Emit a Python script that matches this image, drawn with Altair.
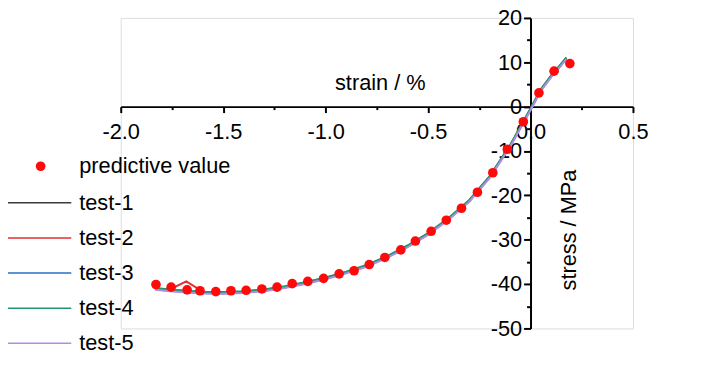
import altair as alt
import pandas as pd

# predictive values (red dots)
strain_pred = [-1.828, -1.754, -1.676, -1.613, -1.536, -1.462, -1.388, -1.311, -1.237, -1.163,
               -1.087, -1.010, -0.934, -0.861, -0.787, -0.711, -0.633, -0.562, -0.485, -0.411,
               -0.337, -0.259, -0.184, -0.113, -0.035, 0.041, 0.115, 0.192]
stress_pred = [-40.1, -40.7, -41.3, -41.5, -41.7, -41.5, -41.4, -41.1, -40.7, -39.9,
               -39.4, -38.7, -37.7, -37.0, -35.6, -34.0, -32.3, -30.3, -28.1, -25.6,
               -22.9, -19.3, -14.9, -9.6, -3.4, 3.1, 8.0, 9.7]

# test curves
strain_test = [-1.83, -1.76, -1.68, -1.6, -1.5, -1.4, -1.3, -1.2, -1.1, -1.0, -0.9, -0.8,
               -0.7, -0.6, -0.5, -0.4, -0.3, -0.2, -0.1, 0.0, 0.05, 0.1, 0.15, 0.175]
stress_test1 = [-41.0, -41.3, -41.6, -41.8, -41.9, -41.7, -41.3, -40.6, -39.7, -38.6, -37.3, -35.8,
                -33.8, -31.4, -28.6, -25.2, -21.2, -15.8, -8.8, -0.5, 3.8, 6.9, 9.6, 11.0]
stress_test2 = [-41.1, -41.2, -39.4, -41.7, -41.8, -41.8, -41.4, -40.7, -39.8, -38.7, -37.4, -35.9,
                -33.9, -31.5, -28.7, -25.3, -21.3, -15.9, -8.9, -0.6, 3.7, 6.8, 9.5, 10.9]
stress_test3 = [-41.2, -41.5, -41.8, -42.0, -42.1, -41.9, -41.5, -40.8, -39.9, -38.8, -37.5, -36.0,
                -34.0, -31.6, -28.8, -25.4, -21.4, -16.0, -9.0, -0.7, 3.6, 6.7, 9.4, 10.8]
stress_test4 = [-40.9, -41.2, -41.5, -41.7, -41.8, -41.6, -41.2, -40.5, -39.6, -38.5, -37.2, -35.7,
                -33.7, -31.3, -28.5, -25.1, -21.1, -15.7, -8.7, -0.4, 3.9, 7.0, 9.7, 11.1]
stress_test5 = [-41.3, -41.6, -41.9, -42.1, -42.2, -42.0, -41.6, -40.9, -40.0, -38.9, -37.6, -36.1,
                -34.1, -31.7, -28.9, -25.5, -21.5, -16.1, -9.1, -0.8, 3.5, 6.6, 9.3, 10.7]

test_names = ["test-1", "test-2", "test-3", "test-4", "test-5"]
test_colors = ["#3a3a3a", "#e03030", "#2a6cc8", "#22976a", "#b08ee6"]

x_major = [-2.0, -1.5, -1.0, -0.5, 0.0, 0.5]
x_minor = [-1.75, -1.25, -0.75, -0.25, 0.25]
y_major = [-50, -40, -30, -20, -10, 0, 10, 20]
y_minor = [-45, -35, -25, -15, -5, 5, 15]

X_DOM = [-2.0, 0.5]
Y_DOM = [-50, 20]
W, H = 518, 314
FONT = "Liberation Sans"
FS = 22

# build tables
rows = []
for name, ys in zip(test_names, [stress_test1, stress_test2, stress_test3, stress_test4, stress_test5]):
    for i, (xv, yv) in enumerate(zip(strain_test, ys)):
        rows.append({"strain": xv, "stress": yv, "series": name, "i": i})
lines_df = pd.DataFrame(rows)
pred_df = pd.DataFrame({"strain": strain_pred, "stress": stress_pred,
                        "series": ["predictive value"] * len(strain_pred)})

# axis offsets that place the axes through the origin
x_off = -(H - H * (Y_DOM[1] - 0) / (Y_DOM[1] - Y_DOM[0]))
y_off = -(W * (0 - X_DOM[0]) / (X_DOM[1] - X_DOM[0]))

x_scale = alt.Scale(domain=X_DOM, nice=False, zero=False)
y_scale = alt.Scale(domain=Y_DOM, nice=False, zero=False)

x_axis_major = alt.Axis(orient="bottom", offset=x_off, values=x_major,
                        labelExpr="replace(format(datum.value, '.1f'), '\u2212', '-')",
                        labelFont=FONT, labelFontSize=FS, labelColor="black",
                        tickSize=6, tickWidth=2, tickColor="black",
                        domainWidth=2, domainColor="black", labelPadding=9,
                        grid=False, labelFlush=False, labelOverlap=False,
                        title="strain / %", titleFont=FONT, titleFontSize=FS,
                        titleFontWeight="normal", titleColor="black",
                        titleX=262, titleY=-17, titleAlign="center",
                        titleBaseline="alphabetic")
y_axis_major = alt.Axis(orient="left", offset=y_off, values=y_major,
                        labelExpr="replace(format(datum.value, 'd'), '\u2212', '-')",
                        labelFont=FONT, labelFontSize=FS, labelColor="black",
                        tickSize=7, tickWidth=2, tickColor="black",
                        domainWidth=2, domainColor="black", labelPadding=2,
                        grid=False, labelFlush=False, labelOverlap=False,
                        title="stress / MPa", titleFont=FONT, titleFontSize=FS,
                        titleFontWeight="normal", titleColor="black",
                        titleAngle=270, titleX=45, titleY=214, titleAlign="center",
                        titleBaseline="alphabetic")
x_axis_minor = alt.Axis(orient="bottom", offset=x_off, values=x_minor, labels=False,
                        domain=False, tickSize=3, tickWidth=2, tickColor="black",
                        grid=False, title="")
y_axis_minor = alt.Axis(orient="left", offset=y_off, values=y_minor, labels=False,
                        domain=False, tickSize=4, tickWidth=2, tickColor="black",
                        grid=False, title="")

lines = alt.Chart(lines_df).mark_line(strokeWidth=2).encode(
    x=alt.X("strain:Q", scale=x_scale, axis=x_axis_major),
    y=alt.Y("stress:Q", scale=y_scale, axis=y_axis_major),
    color=alt.Color("series:N",
                    scale=alt.Scale(domain=test_names, range=test_colors),
                    legend=alt.Legend(orient="none", legendX=-94, legendY=176, title=None,
                                      symbolType="M-6,0H6", symbolSize=121,
                                      symbolStrokeWidth=1.5, labelFont=FONT,
                                      labelFontSize=FS, labelColor="black",
                                      labelOffset=30, rowPadding=13.5, padding=0,
                                      labelLimit=400)),
    order="i:Q",
)

points = alt.Chart(pred_df).mark_circle(size=95, opacity=1).encode(
    x=alt.X("strain:Q", scale=x_scale, axis=x_axis_minor),
    y=alt.Y("stress:Q", scale=y_scale, axis=y_axis_minor),
    color=alt.Color("series:N",
                    scale=alt.Scale(domain=["predictive value"], range=["#ff0a0a"]),
                    legend=alt.Legend(orient="none", legendX=-92, legendY=139, title=None,
                                      symbolType="circle", symbolSize=95,
                                      symbolFillColor="#ff0a0a", symbolStrokeWidth=0,
                                      labelFont=FONT, labelFontSize=FS,
                                      labelColor="black", labelOffset=28, padding=0,
                                      labelLimit=400)),
)

chart = alt.layer(lines, points).resolve_scale(color="independent").resolve_axis(
    x="independent", y="independent"
).properties(
    width=W, height=H,
    padding={"left": 114, "top": 8, "right": 87, "bottom": 40},
    autosize=alt.AutoSizeParams(type="none"),
).configure_view(stroke=None).configure(background="white")

chart.save("out.html", embed_options={"renderer": "svg", "actions": False})
